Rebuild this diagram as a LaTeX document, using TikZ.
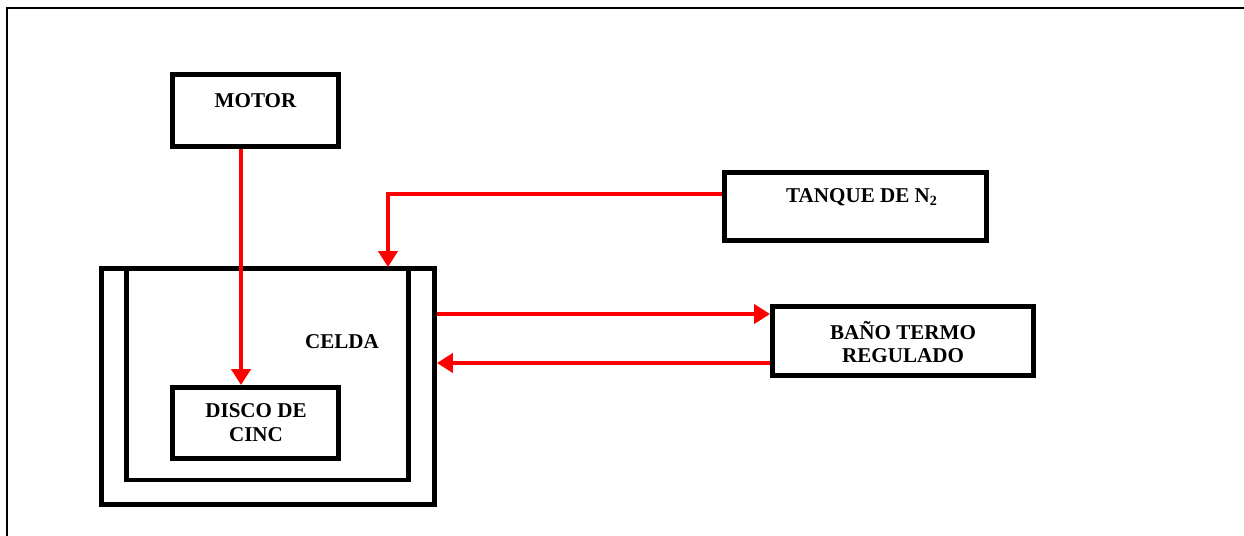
\documentclass[tikz,border=0pt]{standalone}
\usepackage{fontspec}
\setmainfont{Liberation Serif}
\usetikzlibrary{arrows.meta}
\begin{document}
\begin{tikzpicture}[x=0.02cm,y=-0.02cm,
  box/.style={draw=black,line width=2.8pt,rectangle,inner sep=0pt},
  lbl/.style={font=\fontsize{12}{13.6}\selectfont\bfseries,align=center,inner sep=0pt},
  arr/.style={draw=red,line width=2.6pt,-{Triangle[length=0.32cm,width=0.38cm]}},
  frame/.style={line width=1.2pt,black}]
\useasboundingbox (0,0) rectangle (1244,536);
% page frame (top and left only)
\draw[frame] (7,536) -- (7,8) -- (1244,8);
% boxes
\node[box,minimum width=3.32cm,minimum height=1.44cm] (motor) at (255.5,110.5) {};
\node[box,minimum width=5.24cm,minimum height=1.36cm] (tank) at (855.5,206.5) {};
\node[box,minimum width=5.22cm,minimum height=1.38cm] (bano) at (903,341) {};
\node[box,minimum width=6.66cm,minimum height=4.72cm] (celda) at (268,386.5) {};
\node[box,minimum width=3.32cm,minimum height=1.42cm] (disco) at (255.5,423) {};
% inner wall of the cell
\draw[black,line width=2.3pt] (126.5,268.5) -- (126.5,480) -- (408.5,480) -- (408.5,268.5);
% labels
\node[lbl] (tmotor) at (255.5,101) {MOTOR};
\node[lbl] (ttank) at (862,197) {TANQUE DE N\textsubscript{2}};
\node[lbl] (tbano) at (903,342) {BAÑO TERMO\\REGULADO};
\node[lbl] (tdisco) at (256,423) {DISCO DE\\CINC};
\node[lbl] (tcelda) at (342,342) {CELDA};
% connectors
\draw[arr] ([xshift=-0.29cm]motor.south) -- ([xshift=-0.29cm]disco.north);
\draw[arr] ([yshift=0.25cm]tank.west) -| ([xshift=2.4cm,yshift=-0.02cm]celda.north);
\draw[arr] ([yshift=1.45cm]celda.east) -- ([yshift=1.45cm]celda.east -| bano.west);
\draw[arr] ([yshift=0.47cm]celda.east -| bano.west) -- ([yshift=0.47cm]celda.east);
\end{tikzpicture}
\end{document}
